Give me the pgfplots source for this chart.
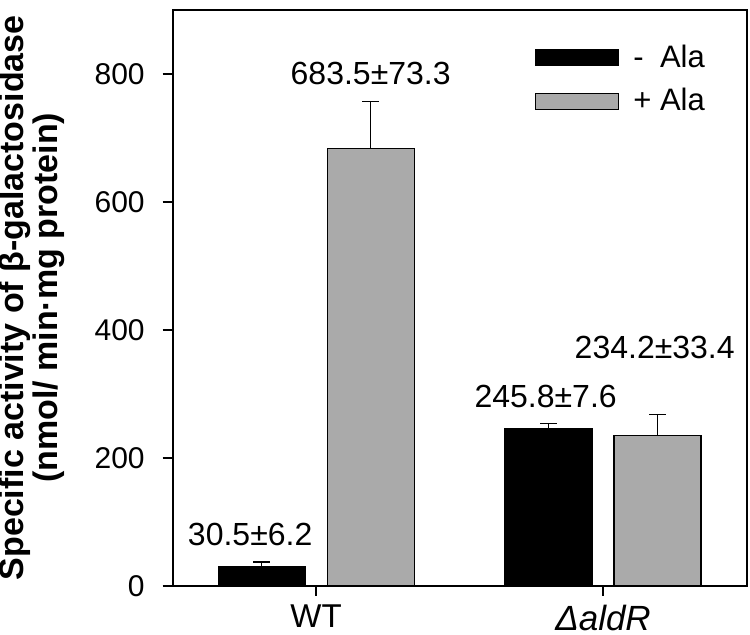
\documentclass[border=0pt]{standalone}
\usepackage{pgfplots}
\pgfplotsset{compat=1.18}
\usepackage{fontspec}
\setmainfont{Liberation Sans}
\definecolor{barGray}{RGB}{170,170,170}
\begin{document}
\begin{tikzpicture}
\begin{axis}[
  scale only axis, width=286.9pt, height=287.85pt,
  xmin=-0.5, xmax=1.5, ymin=0, ymax=900,
  xtick={0,1}, xticklabels={{\fontsize{16.5}{18}\selectfont WT}, {\fontsize{17.5}{19}\selectfont\textit{ΔaldR}}},
  ytick={0,200,400,600,800},
  tick align=outside, major tick length=5pt,
  xtick pos=bottom, ytick pos=left,
  axis line style={line width=1pt},
  tick style={line width=1pt, black},
  tick label style={font=\fontsize{15}{17}\selectfont},
  yticklabel style={xshift=-5.5pt},
  xticklabel style={yshift=-1pt},
  /pgf/number format/assume math mode=true,
  ylabel={Specific activity of β-galactosidase\\(nmol/ min·mg protein)},
  ylabel style={at={(axis description cs:-0.245,0.5)}, anchor=center, align=center,
    font=\fontsize{17}{14}\selectfont\bfseries},
  legend image code/.code={\draw[#1] (0pt,-4pt) rectangle (41.5pt,4pt);},
  legend style={at={(axis description cs:0.631,0.947)}, anchor=north west, draw=none, fill=none,
    font=\fontsize{15.5}{17}\selectfont, row sep=5pt, inner sep=0pt},
  legend cell align=left,
]
\addplot[ybar, bar width=0.303, bar shift=0pt, fill=black, draw=black, line width=0.6pt,
  error bars/.cd, y dir=plus, y explicit,
  error bar style={line width=0.8pt, black},
  error mark options={rotate=90, mark size=4.25pt, line width=0.8pt, black}]
  coordinates {(-0.19,30.5) +- (0,6.2) (0.81,245.8) +- (0,7.6)};
\addlegendentry{\hspace{5pt}\rlap{-}\hphantom{+} Ala}
\addplot[ybar, bar width=0.303, bar shift=0pt, fill=barGray, draw=black, line width=0.6pt,
  error bars/.cd, y dir=plus, y explicit,
  error bar style={line width=0.8pt, black},
  error mark options={rotate=90, mark size=4.25pt, line width=0.8pt, black}]
  coordinates {(0.19,683.5) +- (0,73.3) (1.19,234.2) +- (0,33.4)};
\addlegendentry{\hspace{5pt}+ Ala}
\node[font=\fontsize{16}{18}\selectfont] at (axis cs:-0.23,80) {30.5±6.2};
\node[font=\fontsize{16}{18}\selectfont] at (axis cs:0.19,800) {683.5±73.3};
\node[font=\fontsize{16}{18}\selectfont] at (axis cs:0.80,295.6) {245.8±7.6};
\node[font=\fontsize{16}{18}\selectfont] at (axis cs:1.18,373) {234.2±33.4};
\coordinate (sw) at (rel axis cs:0,0);
\end{axis}
\pgfresetboundingbox
\path (sw) ++(-86.35pt,-24.65pt) rectangle ++(375pt,317.5pt);
\end{tikzpicture}
\end{document}
